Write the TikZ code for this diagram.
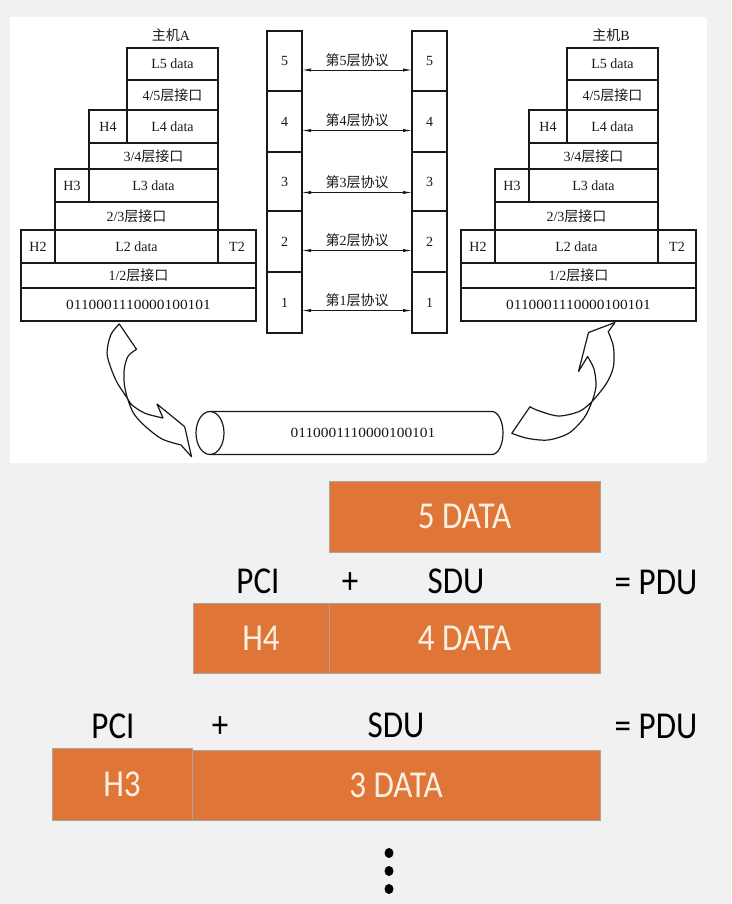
\documentclass[tikz,border=0pt]{standalone}
\usepackage{fontspec}
\setmainfont{Liberation Serif}
\newfontfamily\cjk{Noto Sans CJK SC}
\newfontfamily\slidefont{Carlito}[FakeStretch=0.87]
\usetikzlibrary{arrows.meta}
\definecolor{pagebg}{RGB}{241,241,241}
\definecolor{boxorange}{RGB}{223,118,56}
\definecolor{boxtext}{RGB}{252,240,226}
\definecolor{ink}{RGB}{25,25,25}

\newcommand\cell[7][cellbox]{%
 \pgfmathsetmacro\cellXa{#3}\pgfmathsetmacro\cellYa{#4}%
 \pgfmathsetmacro\cellXb{#5}\pgfmathsetmacro\cellYb{#6}%
 \pgfmathsetmacro\cellW{\cellXb-\cellXa}\pgfmathsetmacro\cellH{\cellYb-\cellYa}%
 \pgfmathsetmacro\cellMx{(\cellXa+\cellXb)/2}\pgfmathsetmacro\cellMy{(\cellYa+\cellYb)/2}%
 \node[#1,minimum width=\cellW pt,minimum height=\cellH pt] (#2) at (\cellMx,\cellMy) {#7};}

\newcommand\hoststack[3]{%
 \cell{#1l5}{#2+127}{48}{#2+218}{80}{L5 data}%
 \cell{#1i45}{#2+127}{80}{#2+218}{110}{4/5{\cjk 层接口}}%
 \cell{#1h4}{#2+89}{110}{#2+127}{143}{H4}%
 \cell{#1l4}{#2+127}{110}{#2+218}{143}{L4 data}%
 \cell{#1i34}{#2+89}{143}{#2+218}{169}{3/4{\cjk 层接口}}%
 \cell{#1h3}{#2+55}{169}{#2+89}{202}{H3}%
 \cell{#1l3}{#2+89}{169}{#2+218}{202}{L3 data}%
 \cell{#1i23}{#2+55}{202}{#2+218}{230}{2/3{\cjk 层接口}}%
 \cell{#1h2}{#2+21}{230}{#2+55}{263}{H2}%
 \cell{#1l2}{#2+55}{230}{#2+218}{263}{L2 data}%
 \cell{#1t2}{#2+218}{230}{#2+256}{263}{T2}%
 \cell{#1i12}{#2+21}{263}{#2+256}{288}{1/2{\cjk 层接口}}%
 \cell{#1bits}{#2+21}{288}{#2+256}{321}{\addfontfeature{FakeStretch=1.1}0110001110000100101}%
 \node[hosttitle] (#1title) at ({#2+171},35) {{\cjk 主机}#3};%
}

\begin{document}
\begin{tikzpicture}[x=1pt,y=-1pt,
  cellbox/.style={draw=ink,line width=1.1pt,inner sep=0pt,outer sep=0pt,
    text=ink,font=\fontsize{14}{14}\selectfont},
  hosttitle/.style={inner sep=0pt,text=ink,font=\fontsize{14}{14}\selectfont},
  proto/.style={{Latex[length=9pt,width=3.2pt]}-{Latex[length=9pt,width=3.2pt]},
    line width=0.8pt,draw=ink},
  protolabel/.style={above=2pt,inner sep=1pt,text=ink,font=\fontsize{14}{14}\selectfont},
  shapeline/.style={draw=ink,line width=1.2pt},
  slidebox/.style={fill=boxorange,draw=gray!70,line width=0.8pt,inner sep=0pt,outer sep=0pt,
    text=boxtext,font=\slidefont\fontsize{38}{38}\selectfont},
  slidelabel/.style={inner sep=0pt,text=black,font=\slidefont\fontsize{38}{38}\selectfont}]
\fill[pagebg] (0,0) rectangle (731,904);
\useasboundingbox (0,0) rectangle (731,904);
\fill[white] (10,17) rectangle (707,463);

% host stacks
\hoststack{a}{0}{A}
\hoststack{b}{440}{B}

% layer columns
\cell{m5}{267}{31}{302}{91}{5}
\cell{m4}{267}{91}{302}{152}{4}
\cell{m3}{267}{152}{302}{211}{3}
\cell{m2}{267}{211}{302}{272}{2}
\cell{m1}{267}{272}{302}{333}{1}
\cell{n5}{412}{31}{447}{91}{5}
\cell{n4}{412}{91}{447}{152}{4}
\cell{n3}{412}{152}{447}{211}{3}
\cell{n2}{412}{211}{447}{272}{2}
\cell{n1}{412}{272}{447}{333}{1}

\draw[proto] ([yshift=-9pt]m5.east) -- node[protolabel]{{\cjk 第}5{\cjk 层协议}} ([yshift=-9pt]n5.west);
\draw[proto] ([yshift=-9pt]m4.east) -- node[protolabel]{{\cjk 第}4{\cjk 层协议}} ([yshift=-9pt]n4.west);
\draw[proto] ([yshift=-11pt]m3.east) -- node[protolabel]{{\cjk 第}3{\cjk 层协议}} ([yshift=-11pt]n3.west);
\draw[proto] ([yshift=-9pt]m2.east) -- node[protolabel]{{\cjk 第}2{\cjk 层协议}} ([yshift=-9pt]n2.west);
\draw[proto] ([yshift=-8pt]m1.east) -- node[protolabel]{{\cjk 第}1{\cjk 层协议}} ([yshift=-8pt]n1.west);

% cable (cylinder)
\draw[shapeline] (210,433) ellipse [x radius=14pt, y radius=21.5pt];
\draw[shapeline] (210,411.5) -- (492,411.5) arc[start angle=90, end angle=-90, x radius=11pt, y radius=21.5pt] -- (210,454.5);
\node[cellbox,draw=none] (wire) at (363,433) {\addfontfeature{FakeStretch=1.1}0110001110000100101};

% curved block arrow, host A down to the cable
\draw[shapeline,line join=round] (119.3,324) -- (136.5,349.3)
  -- plot[smooth] coordinates {(136.5,349.3) (128.2,356) (124.4,368) (124.2,383.3) (127.5,398.5) (134,414) (146,427) (162,439) (181,445)}
  -- (191.5,456.7) -- (184.7,426.7) -- (157,404) -- (163,418)
  -- plot[smooth] coordinates {(163,418) (145,413.3) (132,405) (127.5,398.5) (115.8,380) (107.2,355) (110.7,335) (119.3,324)}
  -- cycle;

% curved block arrow, cable up to host B
\draw[shapeline,line join=round] (615,322.5) -- (588.5,332.5) -- (578.5,371.5) -- (587.6,356.5)
  -- plot[smooth] coordinates {(587.6,356.5) (594,369) (596,386) (592,401.5) (584,418) (568.6,433.3) (548,440) (527.3,438.3) (511.8,433.3)}
  -- (530,406.7)
  -- plot[smooth] coordinates {(530,406.7) (538,410.5) (558.3,416) (579,411.5) (592,401.5) (606.5,383.3) (613.4,366.7) (613.4,346.7) (608.2,331.7)}
  -- cycle;

% PDU illustration
\cell[slidebox]{d5}{329}{481}{600}{552}{5 DATA}
\node[slidelabel] (pcia) at (258,581) {PCI};
\node[slidelabel] (plusa) at (350,583) {+};
\node[slidelabel] (sdua) at (456,581) {SDU};
\node[slidelabel] (pdua) at (656,582) {= PDU};
\cell[slidebox]{h4}{193}{603}{329}{673}{H4}
\cell[slidebox]{d4}{329}{603}{600}{673}{4 DATA}

\node[slidelabel] (pcib) at (113,726) {PCI};
\node[slidelabel] (plusb) at (220,727) {+};
\node[slidelabel] (sdub) at (396,725) {SDU};
\node[slidelabel] (pdub) at (656,726) {= PDU};
\cell[slidebox]{h3}{52}{748}{192}{820}{H3}
\cell[slidebox]{d3}{192}{750}{600}{820}{3 DATA}

\fill[black] (389,853) ellipse [x radius=4.5pt, y radius=5pt];
\fill[black] (389,871) ellipse [x radius=4.5pt, y radius=5pt];
\fill[black] (389,889) ellipse [x radius=4.5pt, y radius=5pt];
\end{tikzpicture}
\end{document}
